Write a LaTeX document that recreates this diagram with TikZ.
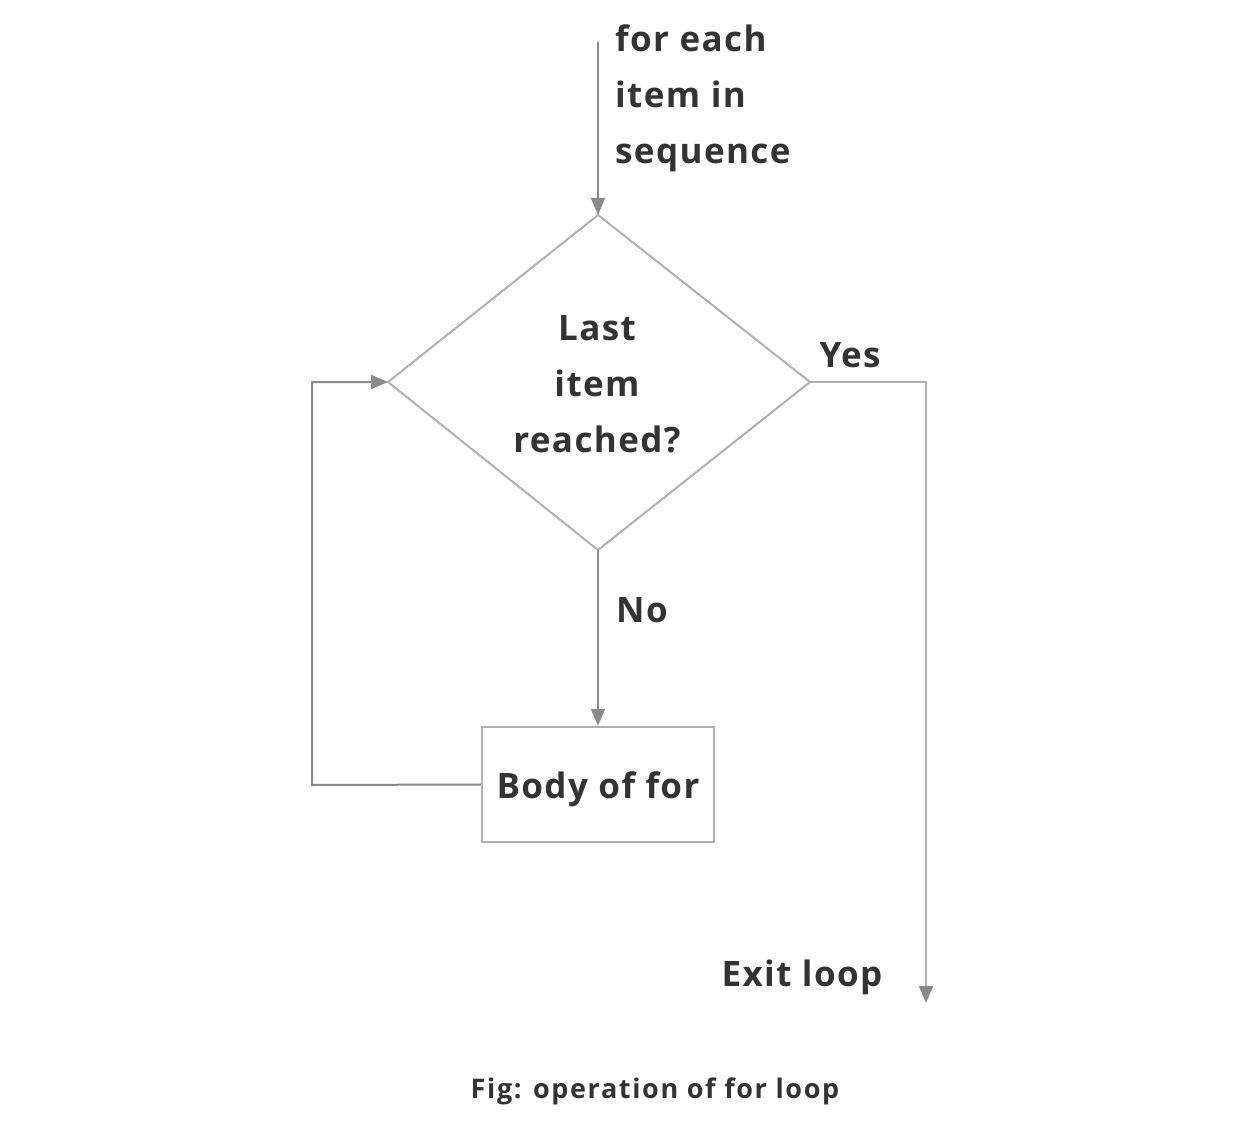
\documentclass[tikz,border=0pt]{standalone}
\usepackage{fontspec}
\setmainfont{Open Sans}
\usetikzlibrary{arrows.meta}
\definecolor{txt}{HTML}{333333}
\definecolor{ln}{HTML}{8A8A8A}
\definecolor{lnl}{HTML}{B0B0B0}
\newcommand{\lblfont}{\fontsize{35}{56}\selectfont\bfseries\addfontfeatures{LetterSpace=4}}
\tikzset{
  conn/.style={draw=ln, line width=2pt, -{Triangle[width=14pt,length=17pt]}},
  lbl/.style={text=txt, font=\lblfont, inner sep=0pt},
}
\begin{document}
\begin{tikzpicture}[x=1pt,y=-1pt]
\useasboundingbox[fill=white] (0,0) rectangle (1248,1123);
% coordinates
\coordinate (start) at (598,42);
\coordinate (dt) at (598,215);
\coordinate (dl) at (388,382);
\coordinate (dr) at (810,382);
\coordinate (db) at (598,550);
\coordinate (yescorner) at (926,382);
\coordinate (exit) at (926,1003);
\coordinate (loopa) at (312,785);
\coordinate (loopb) at (312,382);
% diamond
\draw[draw=lnl, line width=2pt] (dt) -- (dr) -- (db) -- (dl) -- cycle;
\node[lbl, align=center] (cond) at (597,384) {Last\\item\\reached?};
% body box
\node[draw=lnl, line width=2.5pt, minimum width=232pt, minimum height=115pt, inner sep=0pt] (body) at (598,784.5) {};
\node[lbl] (bodytxt) at (598,789) {Body of for};
% connectors
\draw[conn] (start) -- (dt);
\draw[conn] (db) -- (body.north);
\draw[conn] (body.west) -- (loopa) -- (loopb) -- (dl);
\draw[draw=lnl, line width=2pt, -{Triangle[width=14pt,length=17pt,color=ln]}] (dr) -- (yescorner) -- (exit);
% labels
\node[lbl, align=left, anchor=north west] (seq) at (615,25) {for each\\item in\\sequence};
\node[lbl] (yes) at (850,355) {Yes};
\node[lbl] (no) at (642,610) {No};
\node[lbl] (exitlbl) at (802,977) {Exit loop};
\node[text=txt, inner sep=0pt, font=\fontsize{27}{30}\selectfont\bfseries\addfontfeatures{LetterSpace=6}] (cap) at (655,1091) {Fig: operation of for loop};
\end{tikzpicture}
\end{document}
